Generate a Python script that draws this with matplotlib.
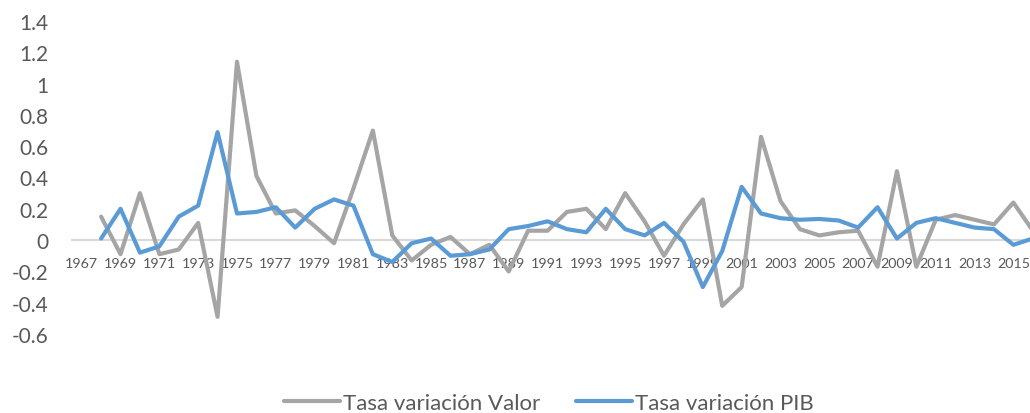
import matplotlib
matplotlib.use("Agg")
import matplotlib.pyplot as plt
import numpy as np

years = list(range(1967, 2017))
valor = [None, 0.15, -0.09, 0.30, -0.09, -0.06, 0.11, -0.49, 1.14, 0.41, 0.17,
         0.19, 0.09, -0.02, 0.33, 0.70, 0.03, -0.13, -0.03, 0.02, -0.09,
         -0.03, -0.20, 0.06, 0.06, 0.18, 0.20, 0.07, 0.30, 0.12, -0.10,
         0.10, 0.26, -0.42, -0.30, 0.66, 0.25, 0.07, 0.03, 0.05, 0.06,
         -0.17, 0.44, -0.17, 0.13, 0.16, 0.13, 0.10, 0.24, 0.06]
pib = [None, 0.01, 0.20, -0.08, -0.04, 0.15, 0.22, 0.69, 0.17, 0.18, 0.21,
       0.08, 0.20, 0.26, 0.22, -0.09, -0.14, -0.02, 0.01, -0.10, -0.09,
       -0.06, 0.07, 0.09, 0.12, 0.07, 0.05, 0.20, 0.07, 0.03, 0.11,
       -0.01, -0.30, -0.07, 0.34, 0.17, 0.14, 0.13, 0.135, 0.125, 0.08,
       0.21, 0.01, 0.11, 0.14, 0.11, 0.08, 0.07, -0.03, 0.01]
ytick_values = [-0.6, -0.4, -0.2, 0, 0.2, 0.4, 0.6, 0.8, 1, 1.2, 1.4]
ytick_labels = ["-0.6", "-0.4", "-0.2", "0", "0.2", "0.4", "0.6", "0.8", "1", "1.2", "1.4"]
xtick_years = list(range(1967, 2016, 2))
series_names = ["Tasa variación Valor", "Tasa variación PIB"]

plt.rcParams['font.family'] = ['Lato', 'DejaVu Sans']
txt = '#595959'

W, H = 1030, 414
fig = plt.figure(figsize=(W / 100, H / 100), dpi=100)
left_px, right_px = 72, 1030
top_px, bot_px = 22, 335
ax = fig.add_axes([left_px / W, (H - bot_px) / H, (right_px - left_px) / W, (bot_px - top_px) / H])

px_per_year = 19.41
ax.set_xlim(1966.5, 1966.5 + (right_px - left_px) / px_per_year)
ax.set_ylim(-0.6, 1.4)

x = np.array(years, dtype=float)
v = np.array([np.nan if a is None else a for a in valor], dtype=float)
p = np.array([np.nan if a is None else a for a in pib], dtype=float)

l1, = ax.plot(x, v, color='#A5A5A5', lw=3.0, solid_joinstyle='round', solid_capstyle='round', label=series_names[0], zorder=3)
l2, = ax.plot(x, p, color='#5B9BD5', lw=3.0, solid_joinstyle='round', solid_capstyle='round', label=series_names[1], zorder=4)

for s in ['top', 'right', 'left']:
    ax.spines[s].set_visible(False)
ax.spines['bottom'].set_position(('data', 0))
ax.spines['bottom'].set_color('#D9D9D9')
ax.spines['bottom'].set_linewidth(1.5)
ax.spines['bottom'].set_zorder(1)

ax.set_yticks(ytick_values)
ax.set_yticklabels(ytick_labels)
ax.set_xticks(xtick_years)
ax.set_xticklabels([str(y) for y in xtick_years])
ax.tick_params(axis='y', length=0, pad=17, labelsize=15, labelcolor=txt)
ax.tick_params(axis='x', length=0, pad=12, labelsize=10.3, labelcolor=txt)
ax.patch.set_alpha(0)

fig.legend(handles=[l1, l2], loc='center', bbox_to_anchor=(549 / W, 1 - 404 / H), ncol=2,
           frameon=False, fontsize=16, labelcolor=txt, handlelength=2.5,
           handletextpad=0.15, columnspacing=1.6)

fig.savefig('out.png', dpi=100)
